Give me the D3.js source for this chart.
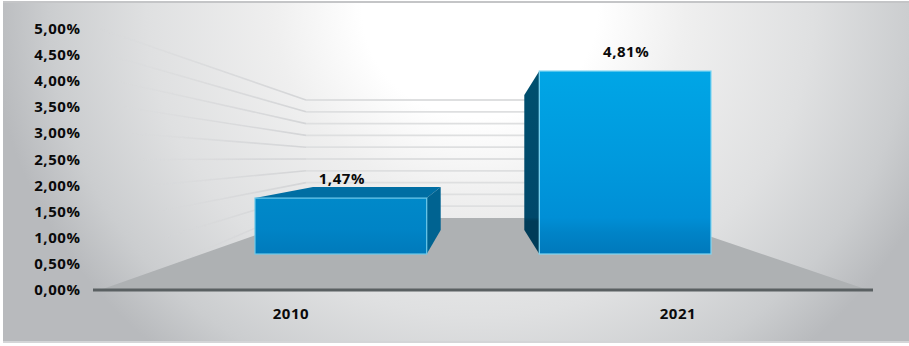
<!DOCTYPE html>
<html><head><meta charset="utf-8">
<script src="https://cdn.jsdelivr.net/npm/d3@7"></script>
<style>html,body{margin:0;padding:0;background:#fff}svg{display:block}text{font-family:"Open Sans",sans-serif;font-weight:700;fill:#0a0a0a}</style>
</head><body><svg id="c" width="909" height="346"></svg>
<script>
const categories = ["2010", "2021"];
const values = [1.47, 4.81];
const valueLabels = ["1,47%", "4,81%"];
const ticks = [0, 0.5, 1, 1.5, 2, 2.5, 3, 3.5, 4, 4.5, 5];
const W = 909, H = 346;
const svg = d3.select("#c");
const defs = svg.append("defs");

const bg = defs.append("radialGradient").attr("id","bg").attr("gradientUnits","userSpaceOnUse")
  .attr("cx",0).attr("cy",0).attr("r",1)
  .attr("gradientTransform","translate(480,10) scale(490,450)");
[[0,"#ffffff"],[.24,"#ffffff"],[.42,"#efefef"],[.68,"#dfe0e1"],[.88,"#cbcdcf"],[1,"#b8babd"]]
  .forEach(([o,c])=>bg.append("stop").attr("offset",o).attr("stop-color",c));

defs.append("filter").attr("id","soft").append("feGaussianBlur").attr("stdDeviation",0.5);

const vgrad=(id,y1,y2,stops)=>{const g=defs.append("linearGradient").attr("id",id).attr("gradientUnits","userSpaceOnUse")
  .attr("x1",0).attr("x2",0).attr("y1",y1).attr("y2",y2);
  stops.forEach(([o,c])=>g.append("stop").attr("offset",o).attr("stop-color",c));};

// scales
const yAxisScale = d3.scaleLinear().domain([0,5]).range([290,29]);
const yBar = d3.scaleLinear().domain([0,5]).range([254,63.8]);
const yBack = d3.scaleLinear().domain([0,5]).range([218,100]);
const xBar = d3.scaleBand().domain(categories).range([255,711]).paddingInner(0.396).paddingOuter(0);
const xLabel = d3.scalePoint().domain(categories).range([291,678]);

// background
svg.append("rect").attr("x",3).attr("y",2).attr("width",W-3).attr("height",340).attr("fill","url(#bg)");
svg.append("rect").attr("x",3).attr("y",1).attr("width",W-3).attr("height",2).attr("fill","#c4c5c7");
svg.append("rect").attr("x",3).attr("y",341).attr("width",W-3).attr("height",2).attr("fill","#d4d5d7");

// grid lines (wall + receding side), fading out toward the labels
const gridLayer = svg.append("g").attr("filter","url(#soft)");
ticks.slice(1).forEach((t,i)=>{
  const ya=yAxisScale(t), yb=yBack(t);
  const x0=100+(5-t)*16;
  const id="gl"+i;
  const g=defs.append("linearGradient").attr("id",id).attr("gradientUnits","userSpaceOnUse")
    .attr("x1",x0).attr("x2",306).attr("y1",ya).attr("y2",yb);
  g.append("stop").attr("offset",0).attr("stop-color","#d4d5d7").attr("stop-opacity",0);
  g.append("stop").attr("offset",.6).attr("stop-color","#d4d5d7").attr("stop-opacity",.7);
  g.append("stop").attr("offset",1).attr("stop-color","#d4d5d7").attr("stop-opacity",1);
  gridLayer.append("line").attr("x1",x0).attr("y1",ya).attr("x2",306).attr("y2",yb)
    .attr("stroke",`url(#${id})`).attr("stroke-width",1.6);
  gridLayer.append("line").attr("x1",306).attr("y1",yb).attr("x2",535).attr("y2",yb)
    .attr("stroke","#dedfe0").attr("stroke-width",1.8);
});

// floor
const floorY = yAxisScale(0), backY = yBack(0);
svg.append("path").attr("d",d3.line()([[100,floorY],[304,backY],[656,backY],[868,floorY]])+"Z").attr("fill","#aeb1b3");
svg.append("line").attr("x1",93).attr("x2",873).attr("y1",floorY).attr("y2",floorY)
  .attr("stroke","#5a6062").attr("stroke-width",3);

// bars
const depth = 14;
const b0=xBar("2010"), bw=xBar.bandwidth(), t0=yBar(values[0]), base=yBar(0);
vgrad("front0",t0,base,[[0,"#0089c9"],[.55,"#0084c6"],[1,"#007abb"]]);
svg.append("path").attr("d",d3.line()([[b0,t0],[b0+58,t0-11],[b0+bw+depth,t0-11],[b0+bw,t0]])+"Z").attr("fill","#006ea3");
svg.append("path").attr("d",d3.line()([[b0+bw,t0],[b0+bw+depth,t0-11],[b0+bw+depth,base-24],[b0+bw,base]])+"Z").attr("fill","#006391");
svg.append("rect").attr("x",b0).attr("y",t0).attr("width",bw).attr("height",base-t0)
  .attr("fill","url(#front0)").attr("stroke","#6cc8ea").attr("stroke-width",1.2);

const b1=xBar("2021"), t1=yBar(values[1]);
const dep=15;
vgrad("front1",t1,base,[[0,"#00a6e6"],[.5,"#0099dd"],[.8,"#008fd6"],[.88,"#0084c8"],[1,"#0079bb"]]);
vgrad("side1",t1,base,[[0,"#004f6e"],[.8,"#00486a"],[.82,"#003c58"],[1,"#003c58"]]);
svg.append("path").attr("d",d3.line()([[b1,t1],[b1-dep,t1+24],[b1-dep,base-24],[b1,base]])+"Z").attr("fill","url(#side1)");
svg.append("rect").attr("x",b1).attr("y",t1).attr("width",bw).attr("height",base-t1)
  .attr("fill","url(#front1)").attr("stroke","#7fd6f2").attr("stroke-width",1.2);

// value labels
const label=(x,y,s,anchor)=>svg.append("text").attr("x",x).attr("y",y).attr("text-anchor",anchor)
  .attr("dominant-baseline","middle").attr("font-size",15).attr("letter-spacing",.55).text(s);
categories.forEach((c,i)=>{
  const x=xBar(c)+bw/2+1;
  label(x, yBar(values[i])-18, valueLabels[i], "middle");
  label(xLabel(c), 315, c, "middle");
});
// y axis labels
const fmt = d=>d.toFixed(2).replace(".",",")+"%";
ticks.forEach(t=>label(80.5, yAxisScale(t)+1, fmt(t), "end"));
</script></body></html>
